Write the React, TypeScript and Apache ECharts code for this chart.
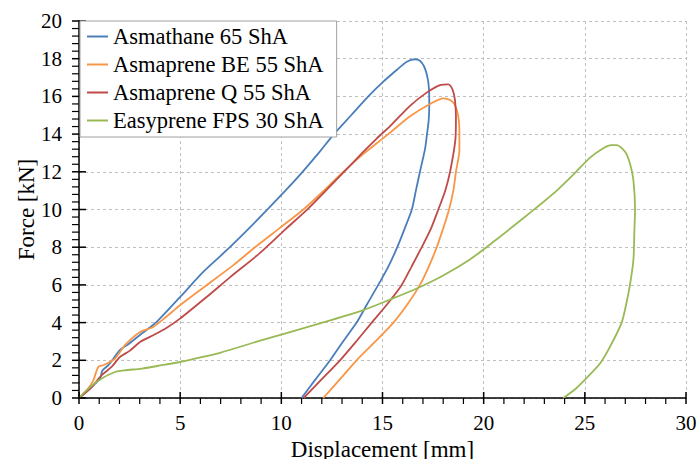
import React, { useEffect, useRef } from "react";
import * as echarts from "echarts";

// ---- data (Displacement [mm], Force [kN]) ----
const seriesNames = [
  "Asmathane 65 ShA",
  "Asmaprene BE 55 ShA",
  "Asmaprene Q 55 ShA",
  "Easyprene FPS 30 ShA",
];
const seriesColors = ["#4A7EBB", "#F79646", "#BE4B48", "#98B954"];

const asmathane: number[][] = [
  [0, 0], [0.5, 0.45], [0.8, 0.76], [1.05, 1.05], [1.15, 1.45], [1.45, 1.74],
  [2.03, 2.55], [2.5, 2.9], [3.1, 3.42], [3.84, 4.04], [5.0, 5.36], [6.14, 6.69],
  [7.3, 7.84], [8.4, 9.0], [9.4, 10.1], [10.2, 11.0], [11.05, 12.0], [11.85, 13.0],
  [12.6, 14.0], [13.45, 15.0], [14.3, 16.0], [15.04, 16.78], [15.7, 17.4],
  [16.2, 17.84], [16.61, 17.97],
  [16.85, 17.89], [17.05, 17.6], [17.18, 17.2], [17.27, 16.7], [17.31, 16.0],
  [17.31, 15.45], [17.28, 14.7], [17.2, 14.0], [17.1, 13.2], [16.85, 12.0],
  [16.65, 11.0], [16.45, 10.0], [16.1, 9.0], [15.73, 8.0], [15.3, 7.0],
  [14.79, 6.0], [14.25, 5.0], [13.72, 4.0], [13.05, 3.0], [12.41, 2.0],
  [11.7, 1.0], [11.0, 0],
];

const asmapreneBE: number[][] = [
  [0, 0], [0.45, 0.5], [0.71, 0.94], [0.95, 1.65], [1.2, 1.74], [1.78, 2.09],
  [2.27, 2.8], [3.02, 3.5], [3.67, 3.77], [4.3, 4.3], [4.99, 4.92], [6.2, 5.9],
  [7.63, 7.05], [8.7, 8.0], [9.9, 9.0], [11.09, 10.0], [12.1, 11.0], [13.06, 12.0],
  [14.0, 12.9], [14.7, 13.5], [15.4, 14.1], [16.36, 14.95], [17.35, 15.6],
  [18.01, 15.9],
  [18.34, 15.81], [18.58, 15.54], [18.75, 14.92], [18.8, 14.04], [18.8, 13.15],
  [18.63, 12.0], [18.5, 11.0], [18.29, 10.0], [18.0, 9.0], [17.68, 8.0],
  [17.3, 7.0], [16.85, 6.0], [16.25, 5.0], [15.54, 4.0], [14.65, 3.0],
  [13.72, 2.0], [12.9, 1.0], [12.07, 0],
];

const asmapreneQ: number[][] = [
  [0, 0], [0.63, 0.58], [1.12, 1.21], [1.61, 1.65], [2.03, 2.18], [2.5, 2.5],
  [3.02, 2.97], [3.67, 3.33], [4.3, 3.7], [4.99, 4.21], [6.31, 5.36], [7.46, 6.4],
  [8.95, 7.7], [10.2, 8.95], [11.33, 10.05], [12.2, 11.0], [13.06, 11.95],
  [14.0, 13.0], [14.7, 13.75], [15.4, 14.45], [16.36, 15.5], [17.18, 16.2],
  [17.84, 16.6], [18.25, 16.64],
  [18.47, 16.34], [18.58, 15.81], [18.63, 14.92], [18.6, 13.68], [18.34, 12.0],
  [18.1, 11.0], [17.76, 10.0], [17.4, 9.0], [16.94, 8.0], [16.45, 7.0],
  [15.95, 6.0], [15.25, 5.0], [14.47, 4.0], [13.7, 3.0], [12.9, 2.0],
  [12.0, 1.0], [11.1, 0],
];

const easyprene: number[][] = [
  [0, 0], [0.46, 0.5], [1.12, 1.03], [1.78, 1.38], [2.27, 1.47], [3.1, 1.56],
  [4.09, 1.74], [4.99, 1.91], [5.73, 2.09], [6.97, 2.4], [8.95, 3.04],
  [10.43, 3.5], [12.2, 4.05], [14.05, 4.66], [15.37, 5.22], [16.69, 5.81],
  [18.0, 6.5], [19.32, 7.35], [20.5, 8.3], [21.8, 9.4], [22.95, 10.4],
  [23.61, 11.0], [24.43, 11.85], [25.26, 12.75], [25.91, 13.25], [26.3, 13.42],
  [26.58, 13.42],
  [26.99, 13.06], [27.23, 12.44], [27.4, 11.56], [27.48, 10.0], [27.45, 8.9],
  [27.4, 7.31], [27.23, 6.0], [27.05, 5.0], [26.82, 4.0], [26.24, 2.71],
  [25.75, 1.83], [25.01, 0.98], [24.5, 0.45], [23.94, 0],
];

const seriesData = [asmathane, asmapreneBE, asmapreneQ, easyprene];

const xMin = 0, xMax = 30, xStep = 5;
const yMin = 0, yMax = 20, yStep = 2;
const minorSplit = 5;
const xTitle = "Displacement [mm]";
const yTitle = "Force [kN]";

// ---- layout ----
const W = 698, H = 459;
const FONT = "Liberation Serif";

export default function App() {
  const ref = useRef<HTMLDivElement>(null);
  useEffect(() => {
    if (!ref.current) return;
    const chart = echarts.init(ref.current, undefined, { renderer: "svg" });
    chart.setOption({
      animation: false,
      textStyle: { fontFamily: FONT },
      grid: {
        left: 79, right: 12, top: 21, bottom: 61,
        containLabel: false, outerBoundsMode: "none",
      },
      legend: {
        orient: "vertical",
        left: 80,
        top: 21,
        data: seriesNames,
        icon: "rect",
        backgroundColor: "#fff",
        borderColor: "#A0A0A0",
        borderWidth: 1,
        padding: [4, 13, 5, 7],
        itemGap: 5,
        itemWidth: 21,
        itemHeight: 2,
        textStyle: { fontFamily: FONT, fontSize: 22.5, color: "#000", lineHeight: 22 },
        z: 10,
      },
      xAxis: {
        type: "value", min: xMin, max: xMax, interval: xStep,
        name: xTitle, nameLocation: "middle", nameGap: 40, nameMoveOverlap: false,
        nameTextStyle: { fontFamily: FONT, fontSize: 23, color: "#000" },
        axisLine: { show: true, onZero: false, lineStyle: { color: "#000", width: 1.5 } },
        axisTick: { show: false },
        minorTick: { show: false },
        axisLabel: { fontFamily: FONT, fontSize: 21, color: "#000", margin: 14 },
        splitLine: { show: true, lineStyle: { color: "#BFBFBF", type: [3, 3], width: 1 } },
      },
      yAxis: {
        type: "value", min: yMin, max: yMax, interval: yStep,
        name: yTitle, nameLocation: "middle", nameGap: 41, nameMoveOverlap: false,
        nameTextStyle: { fontFamily: FONT, fontSize: 23, color: "#000" },
        axisLine: { show: true, onZero: false, lineStyle: { color: "#000", width: 1.5 } },
        axisTick: { show: false },
        minorTick: { show: false },
        axisLabel: { fontFamily: FONT, fontSize: 21, color: "#000", margin: 17 },
        splitLine: { show: true, lineStyle: { color: "#BFBFBF", type: [3, 3], width: 1 } },
      },
      series: seriesData.map((d, i) => ({
        name: seriesNames[i],
        type: "line",
        data: d,
        symbol: "none",
        smooth: 0.25,
        lineStyle: { color: seriesColors[i], width: 1.8 },
        itemStyle: { color: seriesColors[i] },
      })),
    });

    // Axis ticks placed through the chart's own scales (major ticks cross the axis line)
    const axisY = chart.convertToPixel({ yAxisIndex: 0 }, yMin) as number;
    const axisX = chart.convertToPixel({ xAxisIndex: 0 }, xMin) as number;
    const ticks: any[] = [];
    const stroke = { stroke: "#000", lineWidth: 1.5 };
    const nx = Math.round(((xMax - xMin) / xStep) * minorSplit);
    for (let i = 0; i <= nx; i++) {
      const v = xMin + (i * xStep) / minorSplit;
      const px = chart.convertToPixel({ xAxisIndex: 0 }, v) as number;
      const major = i % minorSplit === 0;
      ticks.push({
        type: "line", silent: true, z: 5,
        shape: { x1: px, y1: major ? axisY - 6 : axisY, x2: px, y2: axisY + 6 },
        style: major ? stroke : { stroke: "#000", lineWidth: 1.2 },
      });
    }
    const ny = Math.round(((yMax - yMin) / yStep) * minorSplit);
    for (let i = 0; i <= ny; i++) {
      const v = yMin + (i * yStep) / minorSplit;
      const py = chart.convertToPixel({ yAxisIndex: 0 }, v) as number;
      const major = i % minorSplit === 0;
      ticks.push({
        type: "line", silent: true, z: 5,
        shape: { x1: axisX - 7, y1: py, x2: major ? axisX + 7 : axisX, y2: py },
        style: major ? stroke : { stroke: "#000", lineWidth: 1.2 },
      });
    }
    chart.setOption({ graphic: ticks });
    return () => chart.dispose();
  }, []);
  return <div ref={ref} style={{ position: "absolute", left: 0, top: 0, width: W, height: H }} />;
}
